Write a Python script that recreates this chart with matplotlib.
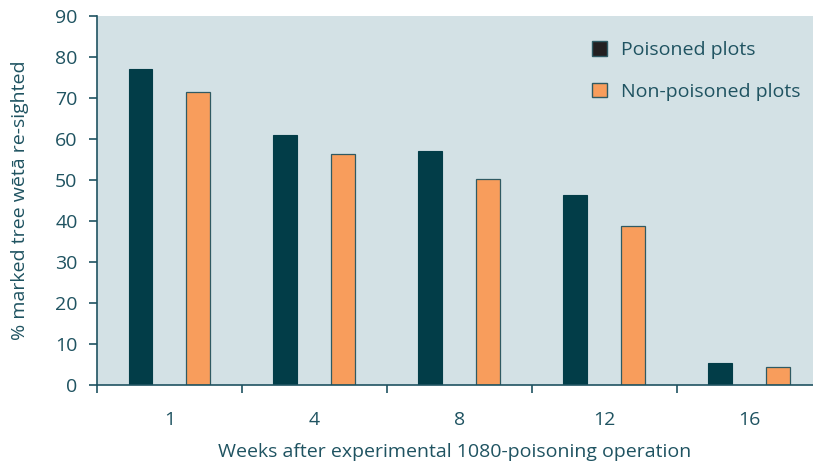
import matplotlib
matplotlib.use("Agg")
import matplotlib.pyplot as plt
from matplotlib.patches import Patch
import numpy as np

# Re-sighting rates of marked tree weta after the 1080 operation
weeks = ["1", "4", "8", "12", "16"]
poisoned = [77.0, 61.0, 57.0, 46.3, 5.4]
non_poisoned = [71.5, 56.4, 50.2, 38.9, 4.3]

bg = "#d3e1e5"
dark = "#023d48"
orange = "#f89d5c"
txt = "#1f5361"
fs = 14

plt.rcParams["font.family"] = ["Open Sans", "DejaVu Sans"]

fig = plt.figure(figsize=(8.13, 4.65), dpi=100)
ax = fig.add_axes([0.1193, 0.172, 0.8807, 0.7936])
ax.set_facecolor(bg)

x = np.arange(len(weeks))
w = 0.165
ax.bar(x - 0.2, poisoned, w, color=dark, edgecolor=dark, linewidth=0.8)
ax.bar(x + 0.2, non_poisoned, w, color=orange, edgecolor="#2f5a63", linewidth=0.9)

ax.set_xlim(-0.5, 4.44)
ax.set_ylim(0, 90)
ax.set_yticks(range(0, 91, 10))
ax.set_xticks(np.arange(-0.5, 4.5, 1.0))
ax.set_xticklabels([])
ax.set_xticks(x, minor=True)
ax.set_xticklabels(weeks, minor=True)
ax.tick_params(axis="x", which="minor", length=0, pad=19)
ax.tick_params(axis="x", which="major", length=6, width=1.2, color=txt)
ax.tick_params(axis="y", length=6, width=1.2, color=txt, pad=8)
ax.tick_params(which="both", labelsize=fs, labelcolor=txt)

for s in ["top", "right"]:
    ax.spines[s].set_visible(False)
for s in ["left", "bottom"]:
    ax.spines[s].set_color(txt)
    ax.spines[s].set_linewidth(1.2)

ax.set_xlabel("Weeks after experimental 1080-poisoning operation",
              fontsize=fs, color=txt, labelpad=10)
ax.set_ylabel("% marked tree wētā re-sighted", fontsize=fs, color=txt, labelpad=19)

handles = [Patch(facecolor="#231f20", edgecolor="#2f5a63", label="Poisoned plots"),
           Patch(facecolor=orange, edgecolor="#2f5a63", label="Non-poisoned plots")]
leg = ax.legend(handles=handles, loc="upper left", bbox_to_anchor=(0.667, 0.979),
                frameon=False, fontsize=fs, handlelength=0.78, handleheight=0.78,
                handletextpad=0.72, labelspacing=1.2)
for t in leg.get_texts():
    t.set_color(txt)

fig.savefig("out.png", dpi=100, facecolor="white")
